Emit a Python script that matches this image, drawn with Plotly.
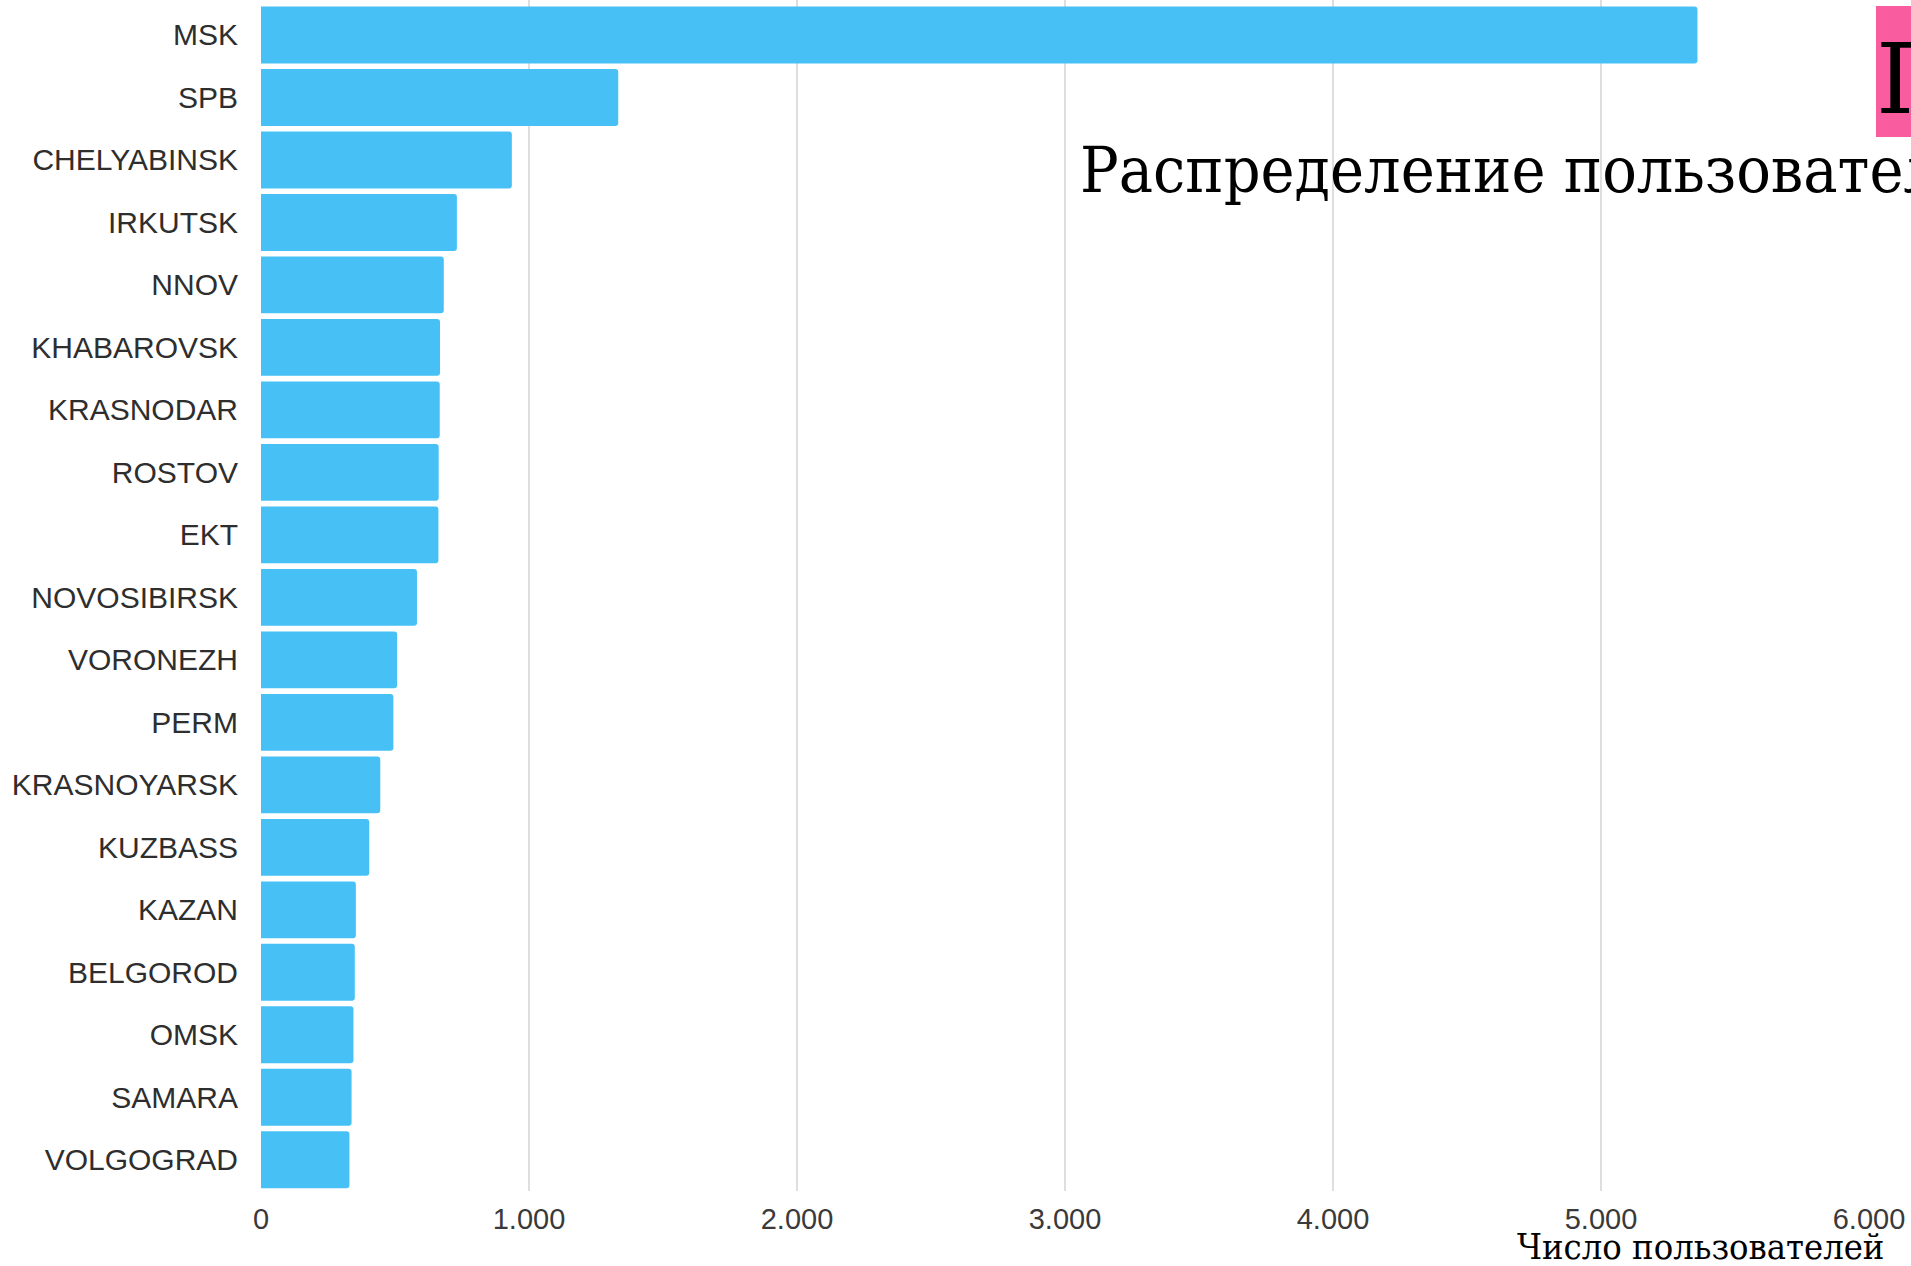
import plotly.graph_objects as go

# Users per region
regions = [
    "MSK", "SPB", "CHELYABINSK", "IRKUTSK", "NNOV", "KHABAROVSK", "KRASNODAR",
    "ROSTOV", "EKT", "NOVOSIBIRSK", "VORONEZH", "PERM", "KRASNOYARSK",
    "KUZBASS", "KAZAN", "BELGOROD", "OMSK", "SAMARA", "VOLGOGRAD",
]
users = [
    5360, 1333, 936, 731, 682, 668, 667,
    663, 662, 582, 508, 494, 445,
    404, 354, 350, 345, 338, 330,
]

x_ticks = [0, 1000, 2000, 3000, 4000, 5000, 6000]

title_text = "Распределение пользователей"
axis_title = "Число пользователей"
badge_text = "П"

BAR_COLOR = "#47c1f5"
BADGE_COLOR = "#f95d9f"
SERIF = "DejaVu Serif"
SERIF_NARROW = "DejaVu Serif Condensed, DejaVu Serif"
SANS = "Liberation Sans, Arial, sans-serif"

fig = go.Figure(
    go.Bar(
        x=users,
        y=regions,
        orientation="h",
        marker=dict(color=BAR_COLOR, cornerradius=3, line=dict(width=0)),
        hoverinfo="x+y",
    )
)

fig.update_layout(
    width=1911,
    height=1266,
    margin=dict(l=261, r=42, t=0, b=75, pad=0),
    paper_bgcolor="white",
    plot_bgcolor="white",
    separators=",.",
    bargap=0.09,
    showlegend=False,
    font=dict(family=SANS, size=29, color="#333333"),
)

fig.update_xaxes(
    range=[0, 6000],
    tickvals=x_ticks,
    tickformat=",d",
    showgrid=True,
    gridcolor="#dedede",
    gridwidth=2,
    zeroline=False,
    showline=False,
    ticks="outside",
    ticklen=2,
    tickcolor="rgba(0,0,0,0)",
    tickfont=dict(family=SANS, size=29, color="#3a3a3a"),
)

fig.update_yaxes(
    type="category",
    categoryorder="array",
    categoryarray=regions,
    range=[18.5, -0.56],
    showgrid=False,
    zeroline=False,
    showline=False,
    ticks="outside",
    ticklen=16,
    tickcolor="rgba(0,0,0,0)",
    tickfont=dict(family=SANS, size=30, color="#2e2e2e"),
)

# Pink badge in the top-right corner, running off the page edge
fig.add_shape(
    type="rect",
    xref="paper", yref="paper",
    x0=(1876 - 261) / 1608, x1=(1960 - 261) / 1608,
    y0=(1191 - 137) / 1191, y1=(1191 - 6) / 1191,
    fillcolor=BADGE_COLOR,
    line=dict(width=0),
    layer="above",
)
fig.add_annotation(
    text=badge_text,
    xref="paper", yref="paper",
    x=(1874 - 261) / 1608, xanchor="left",
    y=(1191 - 80) / 1191, yanchor="middle",
    showarrow=False,
    font=dict(family=SERIF, size=97, color="black"),
)

# Chart heading, clipped by the right edge
fig.add_annotation(
    text=title_text,
    xref="paper", yref="paper",
    x=(1078 - 261) / 1608, xanchor="left",
    y=(1191 - 170) / 1191, yanchor="middle",
    showarrow=False,
    font=dict(family=SERIF_NARROW, size=64, color="black"),
)

# X axis title under the right end of the axis
fig.add_annotation(
    text=axis_title,
    xref="paper", yref="paper",
    x=(1886 - 261) / 1608, xanchor="right",
    y=(1191 - 1246) / 1191, yanchor="middle",
    showarrow=False,
    font=dict(family=SERIF_NARROW, size=36, color="black"),
)

fig.write_html("out.html")
